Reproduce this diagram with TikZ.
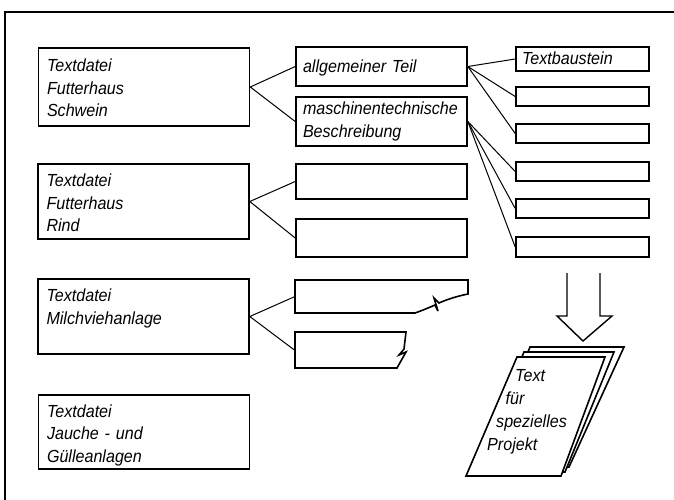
\documentclass[tikz,border=0pt]{standalone}
\usepackage{fontspec}
\setmainfont{Liberation Sans}[FakeStretch=0.92]
\begin{document}
\begin{tikzpicture}[x=1pt,y=-1pt,
  every node/.style={font=\fontsize{17.5}{22.5}\selectfont\itshape},
  bx/.style={draw,line width=1.6pt,inner sep=0pt,align=left},
  abox/.style={bx,minimum width=211pt,text width=194pt,text height=18pt,text depth=48pt},
  bbox/.style={bx,minimum width=171pt,text width=157pt},
  cbox/.style={bx,minimum width=133pt,text width=121pt},
  edge/.style={line width=1.6pt,line join=miter},
  conn/.style={line width=1pt},
  ptext/.style={anchor=base west,inner sep=0pt},
]
\useasboundingbox[fill=white] (0,0) rectangle (674,500);
\draw[line width=1.3pt] (5,500) -- (5,12) -- (674,12);

% left column
\node[abox,minimum height=78pt] (A1) at (144,87) {Textdatei\\Futterhaus\\Schwein};
\node[abox,minimum height=75pt] (A2) at (143.5,201.5) {Textdatei\\Futterhaus\\Rind};
\node[abox,minimum height=75pt] (A3) at (143.5,316.5) {Textdatei\\Milchviehanlage\\\mbox{}};
\node[abox,minimum height=74pt] (A4) at (144,432) {Textdatei\\Jauche - und\\Gülleanlagen};

% middle column
\node[bbox,minimum height=39pt,text height=16pt,text depth=3pt] (B1) at (381.5,66.5) {allgemeiner Teil};
\node[bbox,minimum height=49pt,text height=16pt,text depth=29pt] (B2) at (381.5,121.5) {maschinentechnische\\Beschreibung};
\node[bx,minimum width=171pt,minimum height=35pt] (B3) at (381.5,181.5) {};
\node[bx,minimum width=171pt,minimum height=38pt] (B4) at (381.5,238) {};

% broken boxes
\draw[edge] (295,280) -- (468,280) -- (468,294)
  .. controls (458,296) and (448,299) .. (439,303)
  -- (434,298) -- (438,311) -- (435,305)
  .. controls (428,308) and (421,311) .. (415,313)
  -- (295,313) -- cycle;
\coordinate (B5) at (295,296.5);
\draw[edge] (295,332) -- (406,332) -- (404,349) -- (399,355) -- (406,352)
  -- (397,368) -- (295,368) -- cycle;
\coordinate (B6) at (295,350.5);

% right column
\node[cbox,minimum height=24pt,text height=15pt,text depth=3pt] (C1) at (582.5,59) {Textbaustein};
\node[bx,minimum width=133pt,minimum height=19pt] (C2) at (582.5,96.5) {};
\node[bx,minimum width=133pt,minimum height=19pt] (C3) at (582.5,133.5) {};
\node[bx,minimum width=133pt,minimum height=19pt] (C4) at (582.5,171.5) {};
\node[bx,minimum width=133pt,minimum height=19pt] (C5) at (582.5,208.5) {};
\node[bx,minimum width=133pt,minimum height=20pt] (C6) at (582.5,247) {};

% connectors
\draw[conn] (B1.west) -- (A1.east) -- (B2.west);
\draw[conn] (B3.west) -- (A2.east) -- (B4.west);
\draw[conn] (B5) -- (A3.east) -- (B6);
\draw[conn] (B1.east) -- (C1.west);
\draw[conn] (B1.east) -- (C2.west);
\draw[conn] (B1.east) -- (C3.west);
\draw[conn] (B2.east) -- (C4.west);
\draw[conn] (B2.east) -- (C5.west);
\draw[conn] (B2.east) -- (C6.west);

% hollow arrow
\draw[line width=1.4pt,line join=miter] (567,273) -- (567,316) -- (557,316) -- (583,341)
  -- (612,316) -- (600,316) -- (600,273);

% stack of pages
\draw[edge,fill=white] (530,347) -- (624,347) -- (569,467) -- (480,467) -- cycle;
\draw[edge,fill=white] (524,352) -- (614,352) -- (565,472) -- (473,472) -- cycle;
\draw[edge,fill=white] (517,357) -- (605,357) -- (561,476) -- (466,476) -- cycle;
\node[ptext] (P1) at (515,381) {Text};
\node[ptext] (P2) at (505.5,404) {für};
\node[ptext] (P3) at (496,427) {spezielles};
\node[ptext] (P4) at (487,450) {Projekt};
\end{tikzpicture}
\end{document}
